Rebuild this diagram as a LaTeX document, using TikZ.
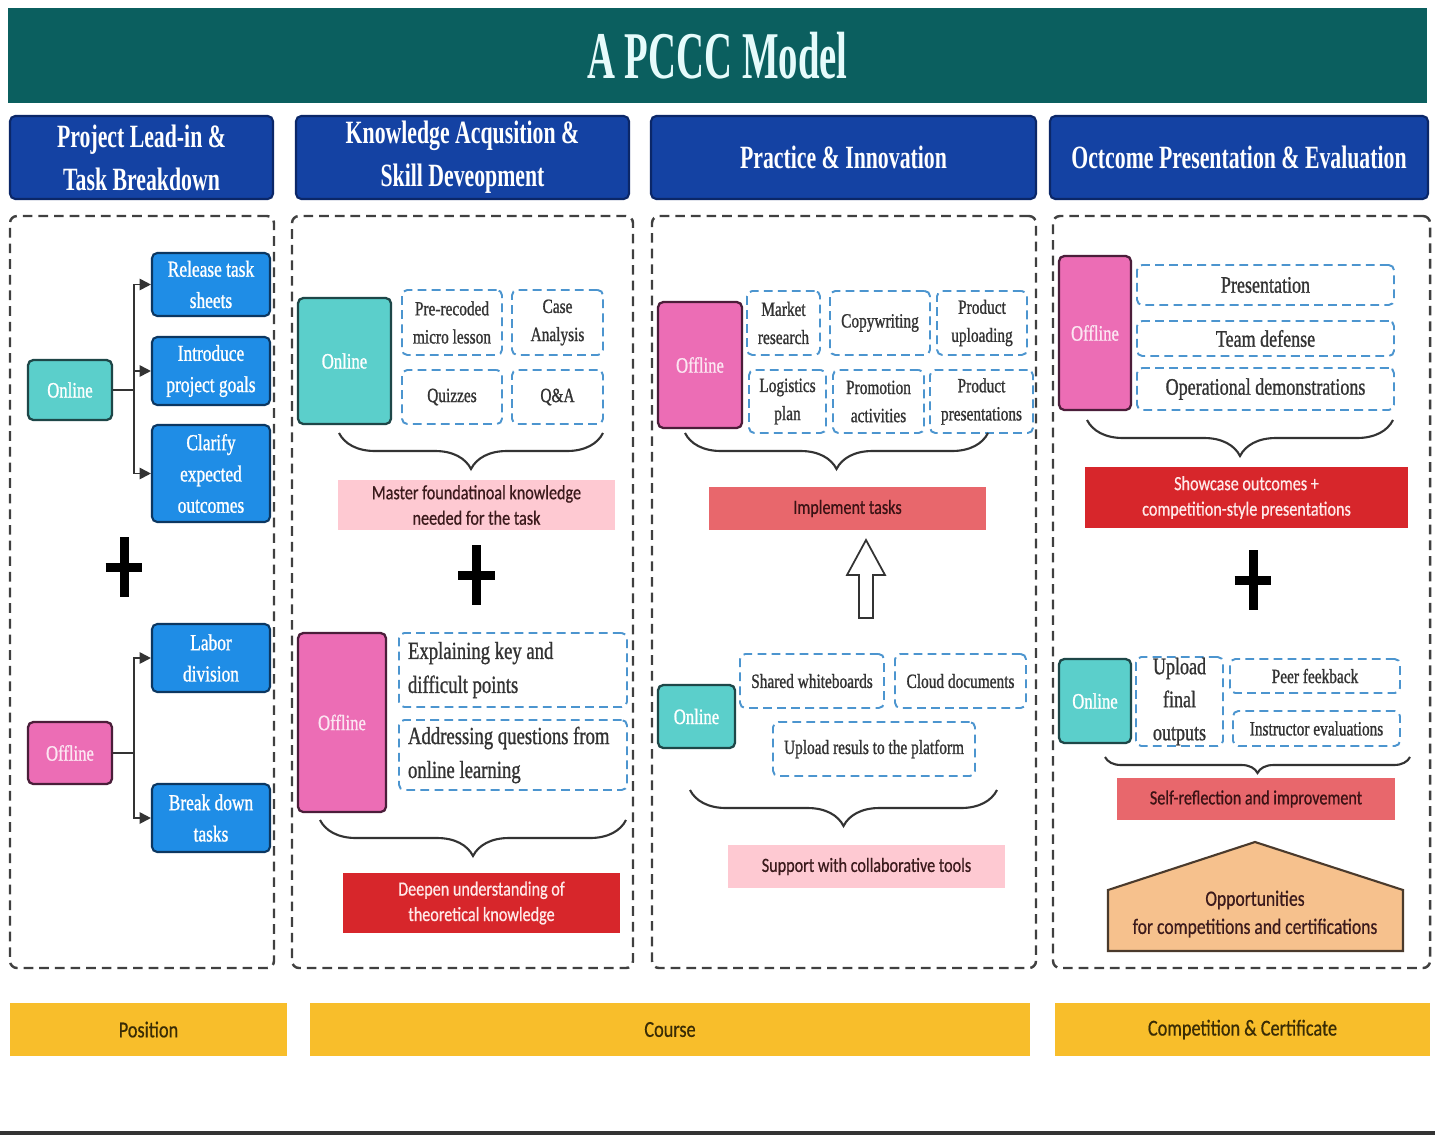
\documentclass[tikz,border=0pt]{standalone}
\usepackage{fontspec}
\newfontfamily\ttlfont{Liberation Serif}[FakeStretch=0.58]
\newfontfamily\hdfont{Liberation Serif}[FakeStretch=0.67]
\newfontfamily\bxfont{Liberation Serif}[FakeStretch=0.76, FakeBold=1]
\newfontfamily\cbfont{Carlito}[FakeStretch=0.8, FakeBold=0.6]
\usepackage{xcolor}
\usepackage{tikz}
\usetikzlibrary{positioning, arrows.meta, decorations.pathreplacing}

\definecolor{pcteal}{HTML}{0B5F5F}
\definecolor{titletxt}{HTML}{E6FBFB}
\definecolor{phaseblue}{HTML}{1442A3}
\definecolor{phaseedge}{HTML}{0B2768}
\definecolor{lanegray}{HTML}{404040}
\definecolor{onlteal}{HTML}{5BCFCB}
\definecolor{onledge}{HTML}{1E4748}
\definecolor{offpink}{HTML}{EC6DB5}
\definecolor{offedge}{HTML}{4B1E3A}
\definecolor{offtxt}{HTML}{FCE6F2}
\definecolor{taskblue}{HTML}{1F8DE6}
\definecolor{taskedge}{HTML}{0C3761}
\definecolor{itemblue}{HTML}{4C95CF}
\definecolor{itemtxt}{HTML}{333333}
\definecolor{notepink}{HTML}{FEC9D2}
\definecolor{notetxt}{HTML}{3B1A1C}
\definecolor{deepred}{HTML}{D7262B}
\definecolor{deeptxt}{HTML}{FFE9E9}
\definecolor{implred}{HTML}{E8676C}
\definecolor{impltxt}{HTML}{3A1214}
\definecolor{houseorange}{HTML}{F6C18D}
\definecolor{houseedge}{HTML}{4A3A2C}
\definecolor{bandyellow}{HTML}{F8BE2B}
\definecolor{bandtxt}{HTML}{3A2C05}
\definecolor{connline}{HTML}{333333}

\begin{document}
\begin{tikzpicture}[x=0.02cm, y=-0.02cm,
        area/.style args={#1/#2/#3/#4}{at={({(#1+#3)/2},{(#2+#4)/2})}, minimum width={(#3-#1)*0.02cm}, minimum height={(#4-#2)*0.02cm}}]
        \tikzstyle{titlebar} = [rectangle, fill=pcteal, inner sep=0pt, text=titletxt, font=\fontsize{38}{40}\selectfont\ttlfont\bfseries]
        \tikzstyle{phase} = [rectangle, rounded corners=3pt, draw=phaseedge, line width=1.2pt, fill=phaseblue, inner sep=0pt, text=white, align=center, font=\fontsize{18.5}{24.5}\selectfont\hdfont\bfseries]
        \tikzstyle{lane} = [rectangle, rounded corners=4pt, draw=lanegray, line width=1.4pt, dash pattern=on 5.5pt off 3.4pt, inner sep=0pt]
        \tikzstyle{onl} = [rectangle, rounded corners=3pt, draw=onledge, line width=1.3pt, fill=onlteal, inner sep=0pt, text=white, font=\fontsize{12.5}{15}\selectfont\bxfont]
        \tikzstyle{offl} = [onl, draw=offedge, fill=offpink, text=offtxt]
        \tikzstyle{task} = [rectangle, rounded corners=3pt, draw=taskedge, line width=1.2pt, fill=taskblue, inner sep=0pt, text=white, align=center, font=\fontsize{13}{17.8}\selectfont\bxfont]
        \tikzstyle{item} = [rectangle, rounded corners=3pt, draw=itemblue, line width=1.1pt, dash pattern=on 5pt off 3pt, fill=white, inner sep=0pt, text=itemtxt, align=center, font=\fontsize{11.5}{16}\selectfont\bxfont]
        \tikzstyle{bigitem} = [item, font=\fontsize{13.5}{18.8}\selectfont\bxfont]
        \tikzstyle{wideitem} = [item, align=flush left, text width=4.2cm, font=\fontsize{14}{19.3}\selectfont\bxfont]
        \tikzstyle{note} = [rectangle, fill=notepink, inner sep=0pt, text=notetxt, align=center, font=\fontsize{11.5}{14.5}\selectfont\cbfont]
        \tikzstyle{deep} = [note, fill=deepred, text=deeptxt]
        \tikzstyle{impl} = [note, fill=implred, text=impltxt]
        \tikzstyle{band} = [note, fill=bandyellow, text=bandtxt, font=\fontsize{13}{15}\selectfont\cbfont]
        \tikzstyle{plus} = [rectangle, minimum width=0.72cm, minimum height=1.18cm, inner sep=0pt]
        \tikzstyle{plusbar} = [draw=black, line width=0.18cm]
        \tikzstyle{conn} = [draw=connline, line width=1.1pt, -{Triangle[length=6.5pt, width=6.5pt]}]
        \tikzstyle{brc} = [draw=connline, line width=1.2pt, decorate, decoration={brace, mirror, amplitude=0.72cm}]
        \tikzstyle{hollow} = [draw=connline, line width=1pt, fill=white]
        \tikzstyle{house} = [draw=houseedge, line width=1.2pt, fill=houseorange]

        \fill[white] (0,0) rectangle (1435,1136);
        \useasboundingbox (0,0) rectangle (1435,1136);

        \node[titlebar, area=8/8/1427/103] (ttl) {A PCCC Model};

        \node[phase, area=10/116/273/199] (ph1) {Project Lead-in \&\\Task Breakdown};
        \node[phase, area=296/116/629/199] (ph2) {Knowledge Acqusition \&\\Skill Deveopment};
        \node[phase, area=651/116/1036/199] (ph3) {Practice \& Innovation};
        \node[phase, area=1050/116/1428/199] (ph4) {Octcome Presentation \& Evaluation};

        \node[lane, area=10/216/274/968] (ln1) {};
        \node[lane, area=292/216/633/968] (ln2) {};
        \node[lane, area=652/216/1036/968] (ln3) {};
        \node[lane, area=1053/216/1430/968] (ln4) {};

        \node[onl, area=28/360/112/420] (on1) {Online};
        \node[task, area=152/253/270/316] (rel) {Release task\\sheets};
        \node[task, area=152/337/270/405] (intro) {Introduce\\project goals};
        \node[task, area=152/425/270/522] (clar) {Clarify\\expected\\outcomes};
        \draw[conn] (on1.east) -- ++(21,0) |- (rel.west);
        \draw[conn] (on1.east) -- ++(21,0) |- (intro.west);
        \draw[conn] (on1.east) -- ++(21,0) |- (clar.west);
        \node[plus] (pl1) at (124,567) {};
        \draw[plusbar] (pl1.north) -- (pl1.south) (pl1.west) -- (pl1.east);
        \node[offl, area=28/722/112/784] (of1) {Offline};
        \node[task, area=152/624/270/692] (labor) {Labor\\division};
        \node[task, area=152/784/270/852] (brk) {Break down\\tasks};
        \draw[conn] (of1.east) -- ++(21,0) |- (labor.west);
        \draw[conn] (of1.east) -- ++(21,0) |- (brk.west);

        \node[onl, area=298/298/391/424] (on2) {Online};
        \node[item, area=402/290/502/355] (prerec) {Pre-recoded\\micro lesson};
        \node[item, area=512/290/603/355] (cases) {Case\\Analysis};
        \node[item, area=402/370/502/424] (quiz) {Quizzes};
        \node[item, area=512/370/603/424] (qa) {Q\&A};
        \coordinate (b2l) at (339,433);
        \coordinate (b2r) at (603,433);
        \draw[brc] (b2l) -- (b2r);
        \node[note, area=338/480/615/530] (master) {Master foundatinoal knowledge\\needed for the task};
        \node[plus, below=0.3cm of master] (pl2) {};
        \draw[plusbar] (pl2.north) -- (pl2.south) (pl2.west) -- (pl2.east);
        \node[offl, area=298/633/386/812] (of2) {Offline};
        \node[wideitem, area=399/633/627/707] (expl) {Explaining key and\\difficult points};
        \node[wideitem, area=399/720/627/790] (addr) {Addressing questions from\\online learning};
        \coordinate (b3l) at (320,820);
        \coordinate (b3r) at (626,820);
        \draw[brc] (b3l) -- (b3r);
        \node[deep, area=343/873/620/933] (deepen) {Deepen understanding of\\theoretical knowledge};

        \node[offl, area=658/302/742/428] (of3) {Offline};
        \node[item, area=747/291/820/355] (market) {Market\\research};
        \node[item, area=830/291/930/355] (copy) {Copywriting};
        \node[item, area=937/291/1027/355] (upl) {Product\\uploading};
        \node[item, area=749/370/826/433] (logi) {Logistics\\plan};
        \node[item, area=833/370/924/433] (promo) {Promotion\\activities};
        \node[item, area=930/370/1033/433] (prodp) {Product\\presentations};
        \coordinate (b4l) at (685,433);
        \coordinate (b4r) at (988,433);
        \draw[brc] (b4l) -- (b4r);
        \node[impl, area=709/487/986/530] (impt) {Implement tasks};
        \coordinate (upt) at (866,540);
        \draw[hollow] (upt) -- ++(19,35) -- ++(-12,0) -- ++(0,43) -- ++(-14,0) -- ++(0,-43) -- ++(-12,0) -- cycle;
        \node[onl, area=658/685/735/748] (on3) {Online};
        \node[item, area=740/654/884/708] (white) {Shared whiteboards};
        \node[item, area=895/654/1026/708] (cloud) {Cloud documents};
        \node[item, area=773/722/975/776] (uplres) {Upload resuls to the platform};
        \coordinate (b5l) at (690,790);
        \coordinate (b5r) at (997,790);
        \draw[brc] (b5l) -- (b5r);
        \node[note, area=728/845/1005/888] (collab) {Support with collaborative tools};

        \node[offl, area=1059/256/1131/410] (of4) {Offline};
        \node[bigitem, area=1137/265/1394/305] (pres) {Presentation};
        \node[bigitem, area=1137/321/1394/356] (team) {Team defense};
        \node[bigitem, area=1137/368/1394/410] (oper) {Operational demonstrations};
        \coordinate (b6l) at (1087,420);
        \coordinate (b6r) at (1393,420);
        \draw[brc] (b6l) -- (b6r);
        \node[deep, area=1085/467/1408/528] (show) {Showcase outcomes +\\competition-style presentations};
        \node[plus] (pl3) at (1253,580) {};
        \draw[plusbar] (pl3.north) -- (pl3.south) (pl3.west) -- (pl3.east);
        \node[onl, area=1059/659/1131/743] (on4) {Online};
        \node[bigitem, area=1136/657/1223/746] (final) {Upload\\final\\outputs};
        \node[item, area=1230/659/1400/693] (peer) {Peer feekback};
        \node[item, area=1233/711/1400/746] (instr) {Instructor evaluations};
        \coordinate (b7l) at (1105,757);
        \coordinate (b7r) at (1410,757);
        \draw[brc, decoration={amplitude=0.32cm}] (b7l) -- (b7r);
        \node[impl, area=1117/778/1395/820] (selfr) {Self-reflection and improvement};
        \draw[house] (1108,951) -- (1108,890) -- (1255,842) -- (1403,890) -- (1403,951) -- cycle;
        \node[note, fill=none, font=\fontsize{12.5}{16}\selectfont\cbfont] (opp) at (1255,914) {Opportunities\\for competitions and certifications};

        \node[band, area=10/1003/287/1056] (pos) {Position};
        \node[band, area=310/1003/1030/1056] (course) {Course};
        \node[band, area=1055/1003/1430/1056] (comp) {Competition \& Certificate};

        \draw[draw=connline, line width=2.2pt] (0,1133) -- (1435,1133);
    \end{tikzpicture}
\end{document}
